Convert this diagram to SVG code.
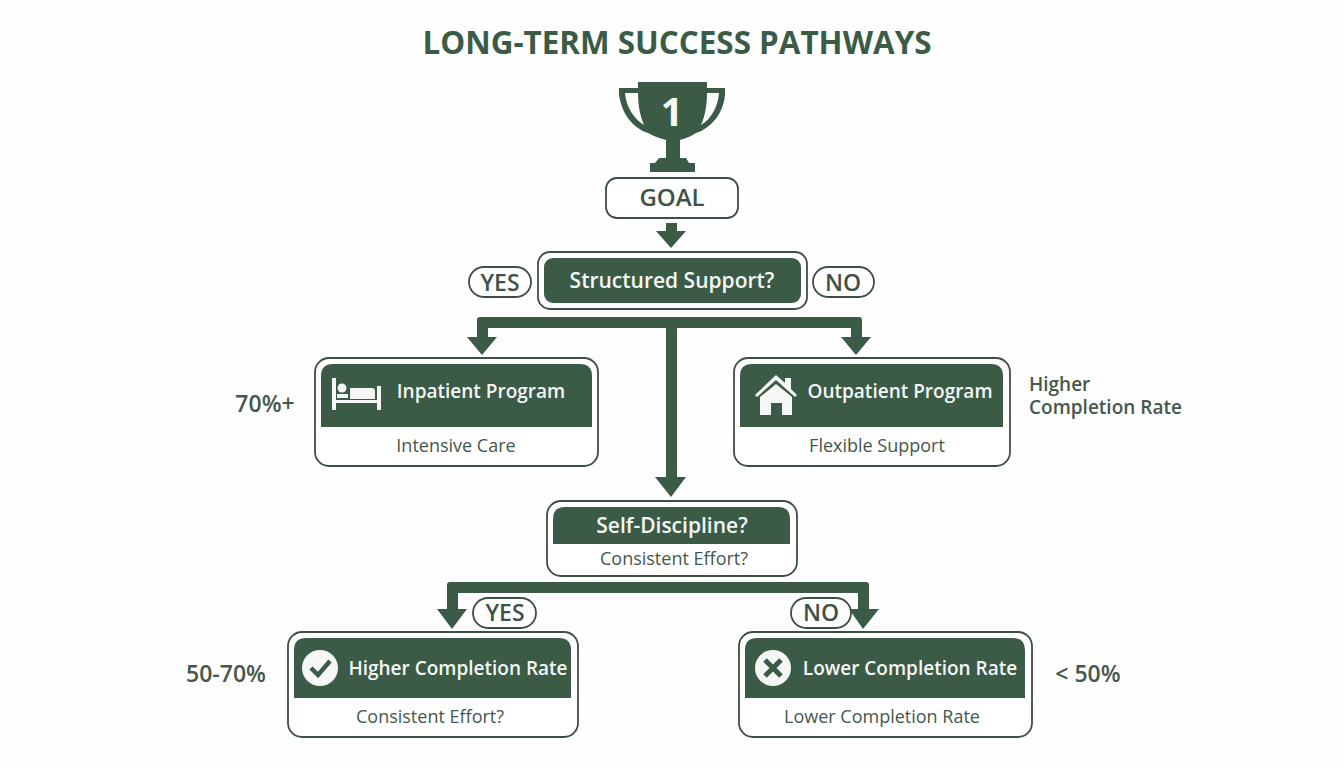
<svg xmlns="http://www.w3.org/2000/svg" width="1344" height="768" viewBox="0 0 1344 768">
<style>
text{font-family:"Open Sans","Noto Sans","DejaVu Sans",sans-serif;text-anchor:middle}
.g{fill:#3b5b47}
.box{fill:#fff;stroke:#3c4f43;stroke-width:1.8}
.ttl{fill:#f4f7f4;font-weight:600;font-size:19px}
.big{font-size:21px}
.sub{fill:#46574c;font-size:18px}
.pct{fill:#46574c;font-weight:600;font-size:23px}
.pill{fill:#fff;stroke:#3c4f43;stroke-width:1.8}
.pt{fill:#3f5246;font-weight:600;font-size:23px}
.ic{fill:#f4f7f4}
</style>
<rect width="1344" height="768" fill="#fdfefd"/>
<text x="677" y="54" font-size="32" font-weight="700" fill="#3b5b47" textLength="509" lengthAdjust="spacingAndGlyphs">LONG-TERM SUCCESS PATHWAYS</text>
<g id="trophy">
<path class="g" d="M638 82H707V88H725V94C724 112 712 128 696 133C690 137 686 138 680 140V158H686L689 163H695V172H650V163H655L659 158H666V140C660 138 655 137 648 133C632 128 621 112 619 94V88H638Z"/>
<path fill="#fdfefd" d="M625 93H638C638 105 640 116 644 125C633 118 626 106 625 93ZM719 93H707C707 105 705 116 701 125C712 118 718 106 719 93Z"/>
<text x="672" y="126" font-size="39" font-weight="700" fill="#f4f7f4">1</text>
</g>
<g id="goal"><rect class="box" x="606" y="178" width="132" height="40" rx="11"/><text x="672" y="206" font-size="24" font-weight="600" fill="#3f5246">GOAL</text></g>
<g id="connectors">
<path class="g" d="M666 223H677V231H686L671 248L656 231H666Z"/>
<path class="g" d="M480 317H859Q862 317 862 320V337H871L856 355L841 337H851V328H677V477H686L671 497L655 477H666V328H488V337H497L482 355L467 337H477V320Q477 317 480 317Z"/>
<path class="g" d="M450 582H866Q869 582 869 585V609H879L863 629L849 609H858V593H458V609H467L452 629L437 609H447V585Q447 582 450 582Z"/>
</g>
<g id="structured"><rect class="box" x="538" y="252" width="269" height="57" rx="12"/><rect class="g" x="544" y="258" width="257" height="45" rx="9"/><text class="ttl big" x="672" y="288">Structured Support?</text></g>
<g id="yes1"><rect class="pill" x="469" y="267" width="62" height="30" rx="15"/><text class="pt" x="500" y="291">YES</text></g>
<g id="no1"><rect class="pill" x="813" y="267" width="61" height="30" rx="15"/><text class="pt" x="843" y="291">NO</text></g>
<g id="inpatient"><rect class="box" x="315" y="358" width="283" height="108" rx="14"/><path class="g" d="M321 376Q321 364 333 364H580Q592 364 592 376V427H321Z"/>
<path class="ic" d="M332 378H336V400H377V386H381V410H377V403H336V410H332Z"/>
<circle cx="342" cy="388" r="4.5" class="ic"/>
<path class="ic" d="M350 388H372Q375 388 375 391V399H350ZM337 394H348V398H337Z"/>
<text class="ttl" x="481" y="398">Inpatient Program</text><text class="sub" x="456" y="452">Intensive Care</text></g>
<g id="outpatient"><rect class="box" x="734" y="358" width="276" height="108" rx="14"/><path class="g" d="M740 376Q740 364 752 364H991Q1003 364 1003 376V427H740Z"/>
<path class="ic" d="M776 375L785 383V378H791V389L797 395L795 397L776 380L757 397L755 395Z M760 397L776 384L792 397V415H782V403H771V415H760Z"/>
<text class="ttl" x="900" y="398">Outpatient Program</text><text class="sub" x="877" y="452">Flexible Support</text></g>
<g id="selfdisc"><rect class="box" x="547" y="501" width="250" height="75" rx="14"/><path class="g" d="M553 519Q553 507 565 507H778Q790 507 790 519V544H553Z"/>
<text class="ttl big" x="672" y="533">Self-Discipline?</text><text class="sub" x="674" y="565">Consistent Effort?</text></g>
<g id="yes2"><rect class="pill" x="473" y="598" width="63" height="30" rx="15"/><text class="pt" x="505" y="621">YES</text></g>
<g id="no2"><rect class="pill" x="791" y="598" width="60" height="30" rx="15"/><text class="pt" x="821" y="621">NO</text></g>
<g id="higher"><rect class="box" x="288" y="632" width="290" height="105" rx="14"/><path class="g" d="M294 650Q294 638 306 638H559Q571 638 571 650V698H294Z"/>
<circle class="ic" cx="320" cy="668" r="18"/><path d="M311 668L318 675L330 661" fill="none" stroke="#3b5b47" stroke-width="4.5"/>
<text class="ttl" x="458" y="675">Higher Completion Rate</text><text class="sub" x="430" y="723">Consistent Effort?</text></g>
<g id="lower"><rect class="box" x="739" y="632" width="293" height="105" rx="14"/><path class="g" d="M745 650Q745 638 757 638H1013Q1025 638 1025 650V698H745Z"/>
<circle class="ic" cx="773" cy="668" r="18"/><path d="M765 660L781 676M781 660L765 676" fill="none" stroke="#3b5b47" stroke-width="5"/>
<text class="ttl" x="910" y="675">Lower Completion Rate</text><text class="sub" x="882" y="723">Lower Completion Rate</text></g>
<text class="pct" x="265" y="412">70%+</text>
<text class="pct" x="226" y="682">50-70%</text>
<text class="pct" x="1088" y="682">&lt; 50%</text>
<g id="note"><text x="1029" y="391" font-size="19" font-weight="600" fill="#46574c" style="text-anchor:start">Higher</text><text x="1029" y="414" font-size="19" font-weight="600" fill="#46574c" style="text-anchor:start">Completion Rate</text></g>
</svg>
